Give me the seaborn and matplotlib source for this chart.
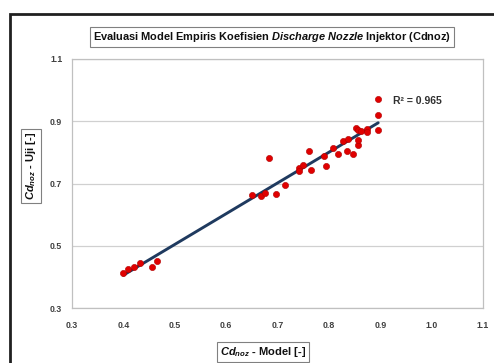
import matplotlib
matplotlib.use("Agg")
import matplotlib.pyplot as plt
import seaborn as sns
import pandas as pd
from matplotlib.patches import Rectangle

x_model = [0.400, 0.409, 0.420, 0.432, 0.456, 0.466,
           0.651, 0.668, 0.675, 0.684, 0.697, 0.714,
           0.741, 0.741, 0.749, 0.761, 0.766, 0.790, 0.794,
           0.809, 0.818, 0.828, 0.836, 0.837, 0.847,
           0.853, 0.856, 0.857, 0.857, 0.863, 0.874, 0.875,
           0.895, 0.896, 0.896]
y_uji = [0.412, 0.424, 0.433, 0.446, 0.433, 0.452,
         0.663, 0.660, 0.668, 0.783, 0.666, 0.695,
         0.749, 0.741, 0.760, 0.804, 0.742, 0.789, 0.757,
         0.815, 0.795, 0.838, 0.803, 0.842, 0.794,
         0.878, 0.823, 0.840, 0.872, 0.870, 0.875, 0.864,
         0.973, 0.920, 0.872]
x_ticks = [0.3, 0.4, 0.5, 0.6, 0.7, 0.8, 0.9, 1.0, 1.1]
y_ticks = [0.3, 0.5, 0.7, 0.9, 1.1]
r2_text = "R² = 0.965"

df = pd.DataFrame({"model": x_model, "uji": y_uji})

sns.set_theme(style="white")
FONT = "Liberation Sans"
plt.rcParams["font.family"] = [FONT, "DejaVu Sans"]
plt.rcParams["mathtext.fontset"] = "custom"
plt.rcParams["mathtext.it"] = f"{FONT}:italic:bold"
plt.rcParams["mathtext.rm"] = f"{FONT}:bold"
plt.rcParams["mathtext.bf"] = f"{FONT}:bold"

fig = plt.figure(figsize=(4.94, 3.63), dpi=100)
ax = fig.add_axes([72/494, 1-308/363, (483-72)/494, (308-59)/363])

sns.regplot(data=df, x="model", y="uji", ax=ax, ci=None,
            scatter_kws=dict(s=20, color="#e00000", edgecolor="#b00000", linewidths=0.4, zorder=3, alpha=1),
            line_kws=dict(color="#1f3a5f", lw=2.1, zorder=2))

ax.set_xlim(0.3, 1.1)
ax.set_ylim(0.3, 1.1)
ax.set_xticks(x_ticks)
ax.set_yticks(y_ticks)
ax.set_xticklabels([f"{v:.1f}" for v in x_ticks], fontsize=6.3, fontweight="bold", color="#404040")
ax.set_yticklabels([f"{v:.1f}" for v in y_ticks], fontsize=6.3, fontweight="bold", color="#404040")
ax.tick_params(axis="x", length=0, pad=9)
ax.tick_params(axis="y", length=0, pad=7)
ax.yaxis.grid(True, color="#d0d0d0", lw=0.9)
ax.xaxis.grid(False)
for s in ax.spines.values():
    s.set_color("#c0c0c0")
    s.set_linewidth(0.9)
ax.set_xlabel("")
ax.set_ylabel("")

ax.text(0.925, 0.965, r2_text, transform=ax.transData, fontsize=7.5, fontweight="bold",
        color="#303030", ha="left", va="center")

box = dict(boxstyle="square,pad=0.25", fc="white", ec="#808080", lw=0.8)
fig.text(272/494, 1-37/363, r"Evaluasi Model Empiris Koefisien $\it{Discharge\ Nozzle}$ Injektor (Cdnoz)",
         fontsize=7.9, fontweight="bold", ha="center", va="center", bbox=box, color="#101010")
fig.text(263/494, 1-352/363, r"$\it{Cd}_{\it{noz}}$ - Model [-]",
         fontsize=8, fontweight="bold", ha="center", va="center", bbox=box, color="#101010")
fig.text(31/494, 1-166/363, r"$\it{Cd}_{\it{noz}}$ - Uji [-]", rotation=90,
         fontsize=8, fontweight="bold", ha="center", va="center", bbox=box, color="#101010")

fig.patches.append(Rectangle((10/494, -0.1), 1.2, 1-14/363+0.1, transform=fig.transFigure,
                             fill=False, ec="#202020", lw=2.0))

fig.savefig("out.png", dpi=100)
